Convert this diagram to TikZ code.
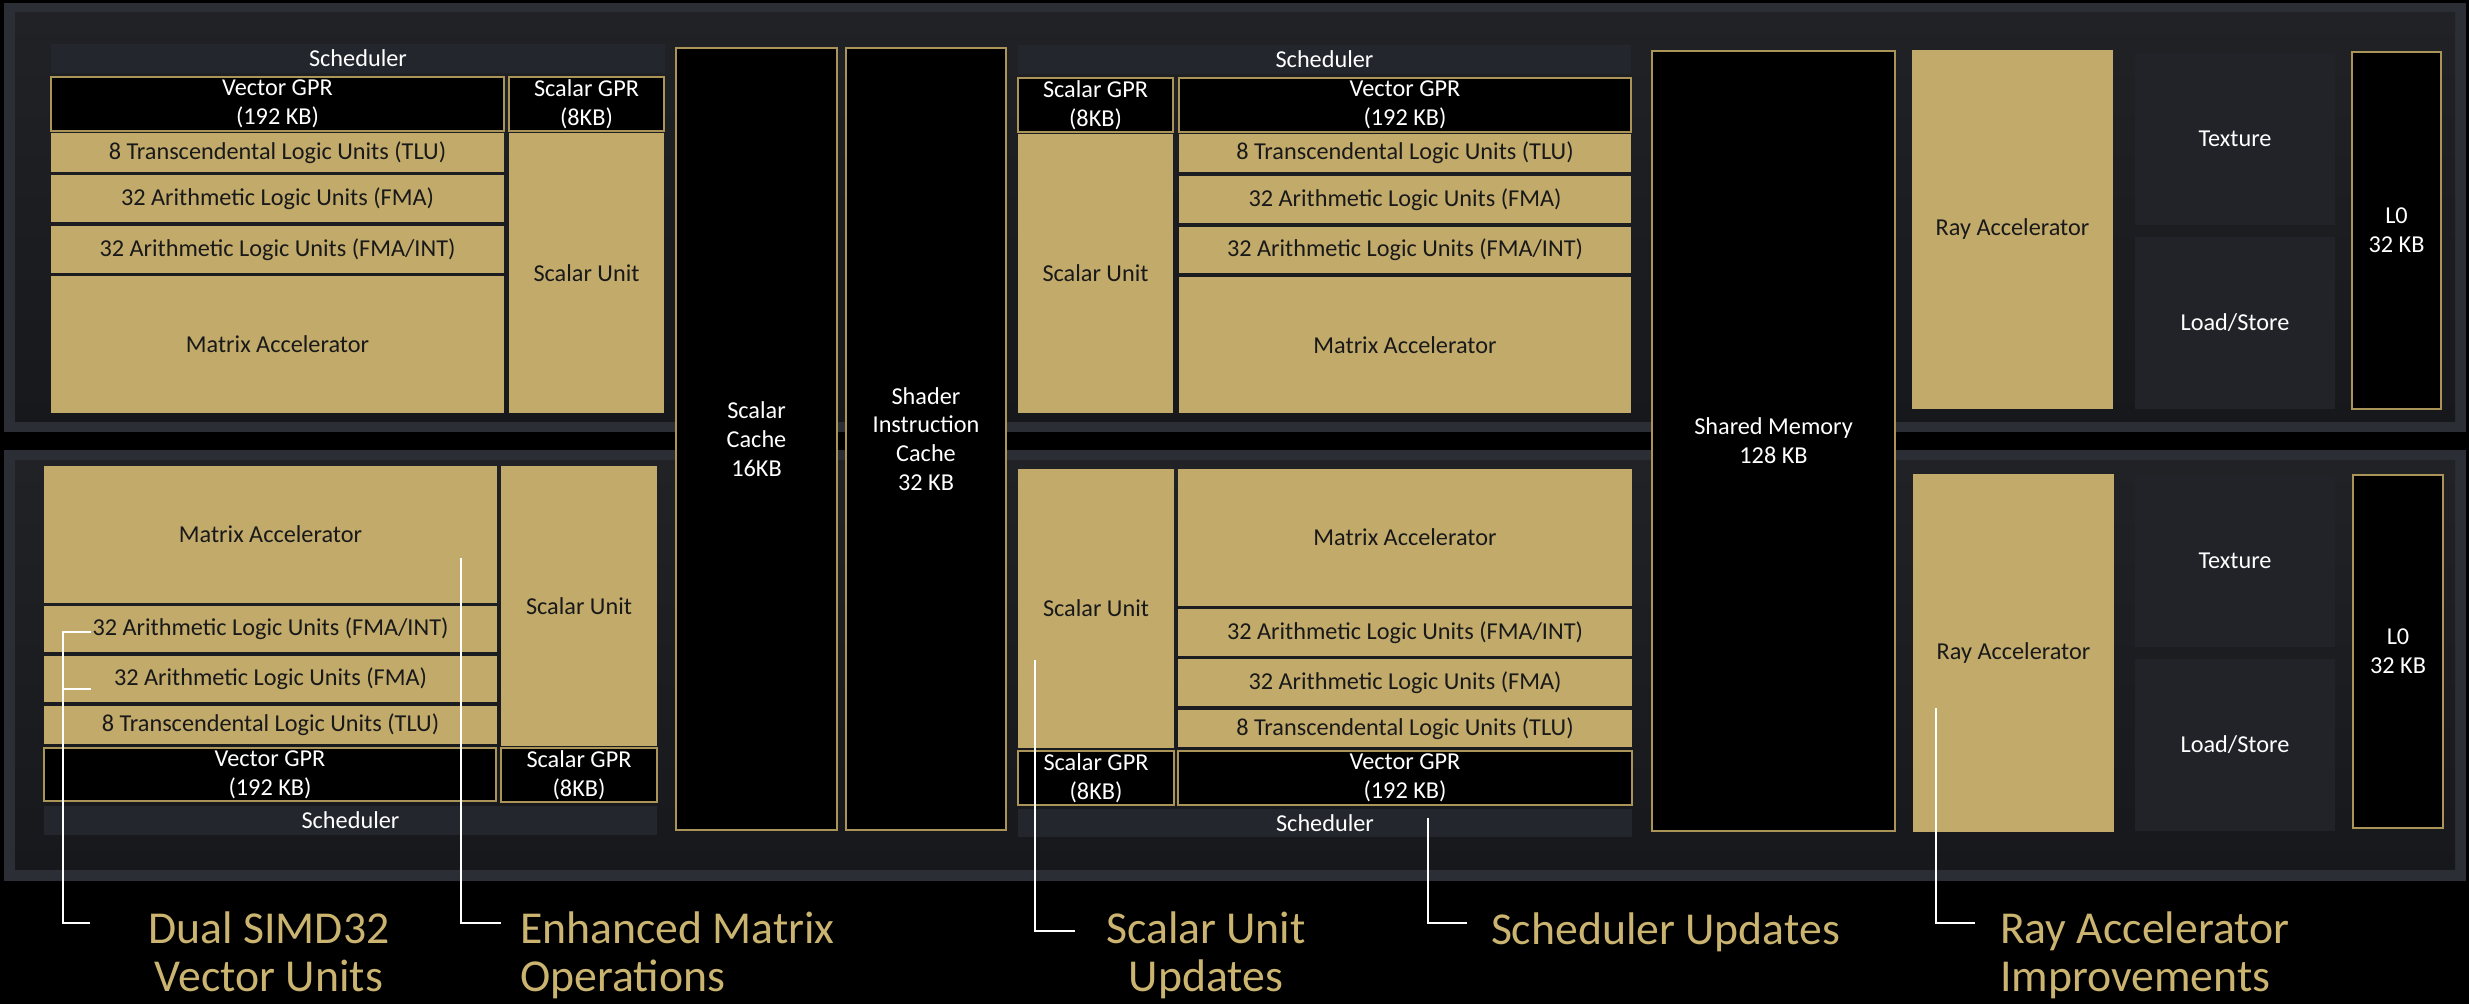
\documentclass[tikz,border=0pt]{standalone}
\usepackage{fontspec}
\setmainfont{Carlito}
\usepackage{tikz}
\definecolor{gold}{RGB}{193,170,106}
\definecolor{goldline}{RGB}{170,148,88}
\definecolor{goldtext}{RGB}{203,180,112}
\definecolor{frameclr}{RGB}{43,46,52}
\definecolor{paneltop}{RGB}{32,34,38}
\definecolor{panelbot}{RGB}{23,24,27}
\definecolor{schedclr}{RGB}{35,38,45}
\definecolor{tileclr}{RGB}{33,35,41}

\begin{document}
\begin{tikzpicture}[
  x=0.01cm, y=-0.01cm,
  every node/.style={inner sep=0pt, outer sep=0pt, align=center, font=\fontsize{6.9}{8.2}\selectfont},
  cell/.style n args={4}{at={({(#1+#3)/2},{(#2+#4)/2})},
    minimum width={(#3-#1)*0.01cm}, minimum height={(#4-#2)*0.01cm}},
  frame/.style={fill=frameclr},
  panel/.style={top color=paneltop, bottom color=panelbot},
  alu/.style={fill=gold, text=black!90},
  mem/.style={fill=black, draw=goldline, line width=0.8pt, text=white},
  sch/.style={fill=schedclr, text=white},
  io/.style={fill=tileclr, text=white},
  note/.style={text=goldtext, font=\fontsize{13}{13.9}\selectfont},
  callout/.style={draw=white, line width=0.6pt}
]
  \fill[black] (0,0) rectangle (2469,1004);

  \node[frame, cell={4}{3}{2466}{432}] (topFrame) {};
  \node[panel, cell={15}{13}{2455}{422}] (topPanel) {};
  \node[frame, cell={4}{450}{2466}{881}] (botFrame) {};
  \node[panel, cell={15}{461}{2455}{870}] (botPanel) {};

  % top left SIMD
  \node[sch, cell={51}{44}{665}{73}] (schA) {Scheduler};
  \node[mem, cell={51}{77}{504}{131}] (vgprA) {Vector GPR\\(192 KB)};
  \node[mem, cell={509}{77}{664}{131}] (sgprA) {Scalar GPR\\(8KB)};
  \node[alu, cell={51}{133}{504}{172}] (tluA) {8 Transcendental Logic Units (TLU)};
  \node[alu, cell={51}{175}{504}{222}] (fmaA) {32 Arithmetic Logic Units (FMA)};
  \node[alu, cell={51}{226}{504}{273}] (intA) {32 Arithmetic Logic Units (FMA/INT)};
  \node[alu, cell={51}{276}{504}{413}] (mtxA) {Matrix Accelerator};
  \node[alu, cell={509}{133}{664}{413}] (suA) {Scalar Unit};

  \node[mem, cell={676}{48}{837}{830}] (scache) {Scalar\\Cache\\16KB};
  \node[mem, cell={846}{48}{1006}{830}] (icache) {Shader\\Instruction\\Cache\\32 KB};

  % top right SIMD
  \node[sch, cell={1018}{45}{1631}{74}] (schB) {Scheduler};
  \node[mem, cell={1018}{78}{1173}{132}] (sgprB) {Scalar GPR\\(8KB)};
  \node[mem, cell={1179}{78}{1631}{132}] (vgprB) {Vector GPR\\(192 KB)};
  \node[alu, cell={1018}{134}{1173}{413}] (suB) {Scalar Unit};
  \node[alu, cell={1179}{134}{1631}{172}] (tluB) {8 Transcendental Logic Units (TLU)};
  \node[alu, cell={1179}{176}{1631}{223}] (fmaB) {32 Arithmetic Logic Units (FMA)};
  \node[alu, cell={1179}{227}{1631}{273}] (intB) {32 Arithmetic Logic Units (FMA/INT)};
  \node[alu, cell={1179}{277}{1631}{413}] (mtxB) {Matrix Accelerator};

  \node[mem, cell={1652}{51}{1895}{831}] (smem) {Shared Memory\\128 KB};

  \node[alu, cell={1912}{50}{2113}{409}] (rayA) {Ray Accelerator};
  \node[io, cell={2135}{53}{2335}{225}] (texA) {Texture};
  \node[io, cell={2135}{237}{2335}{409}] (lsA) {Load/Store};
  \node[mem, cell={2352}{52}{2441}{409}] (lzA) {L0\\32 KB};

  % bottom left SIMD
  \node[alu, cell={44}{466}{497}{603}] (mtxC) {Matrix Accelerator};
  \node[alu, cell={44}{606}{497}{652}] (intC) {32 Arithmetic Logic Units (FMA/INT)};
  \node[alu, cell={44}{656}{497}{702}] (fmaC) {32 Arithmetic Logic Units (FMA)};
  \node[alu, cell={44}{706}{497}{744}] (tluC) {8 Transcendental Logic Units (TLU)};
  \node[mem, cell={44}{748}{496}{801}] (vgprC) {Vector GPR\\(192 KB)};
  \node[alu, cell={501}{466}{657}{746}] (suC) {Scalar Unit};
  \node[mem, cell={501}{748}{657}{802}] (sgprC) {Scalar GPR\\(8KB)};
  \node[sch, cell={44}{806}{657}{835}] (schC) {Scheduler};

  % bottom right SIMD
  \node[alu, cell={1018}{469}{1174}{748}] (suD) {Scalar Unit};
  \node[alu, cell={1178}{469}{1632}{606}] (mtxD) {Matrix Accelerator};
  \node[alu, cell={1178}{609}{1632}{656}] (intD) {32 Arithmetic Logic Units (FMA/INT)};
  \node[alu, cell={1178}{659}{1632}{706}] (fmaD) {32 Arithmetic Logic Units (FMA)};
  \node[alu, cell={1178}{710}{1632}{747}] (tluD) {8 Transcendental Logic Units (TLU)};
  \node[mem, cell={1018}{751}{1174}{805}] (sgprD) {Scalar GPR\\(8KB)};
  \node[mem, cell={1178}{751}{1632}{805}] (vgprD) {Vector GPR\\(192 KB)};
  \node[sch, cell={1018}{809}{1632}{837}] (schD) {Scheduler};

  \node[alu, cell={1913}{474}{2114}{832}] (rayB) {Ray Accelerator};
  \node[io, cell={2135}{475}{2335}{647}] (texB) {Texture};
  \node[io, cell={2135}{659}{2335}{831}] (lsB) {Load/Store};
  \node[mem, cell={2353}{475}{2443}{828}] (lzB) {L0\\32 KB};

  % callouts
  \node[note, anchor=base] (dualNote) at (269,992) {Dual SIMD32\\Vector Units};
  \node[note, anchor=base west, align=left] (mtxNote) at (520,992) {Enhanced Matrix\\Operations};
  \node[note, anchor=base] (suNote) at (1206,992) {Scalar Unit\\Updates};
  \node[note, anchor=base west] (schNote) at (1491,945) {Scheduler Updates};
  \node[note, anchor=base west, align=left] (rayNote) at (2000,992) {Ray Accelerator\\Improvements};

  \coordinate (dualTop) at (91,632);
  \coordinate (dualMid) at (91,689);
  \coordinate (dualRail) at (63,923);
  \coordinate (dualEnd) at (90,923);
  \coordinate (mtxTip) at (461,558);
  \coordinate (mtxEnd) at (501,923);
  \coordinate (suTip) at (1035,660);
  \coordinate (suEnd) at (1075,931);
  \coordinate (schTip) at (1428,818);
  \coordinate (schEnd) at (1467,923);
  \coordinate (rayTip) at (1936,708);
  \coordinate (rayEnd) at (1975,923);

  \draw[callout] (dualTop) -| (dualRail) -- (dualEnd);
  \draw[callout] (dualMid) -- (dualMid -| dualRail);
  \draw[callout] (mtxTip) |- (mtxEnd);
  \draw[callout] (suTip) |- (suEnd);
  \draw[callout] (schTip) |- (schEnd);
  \draw[callout] (rayTip) |- (rayEnd);
\end{tikzpicture}
\end{document}
